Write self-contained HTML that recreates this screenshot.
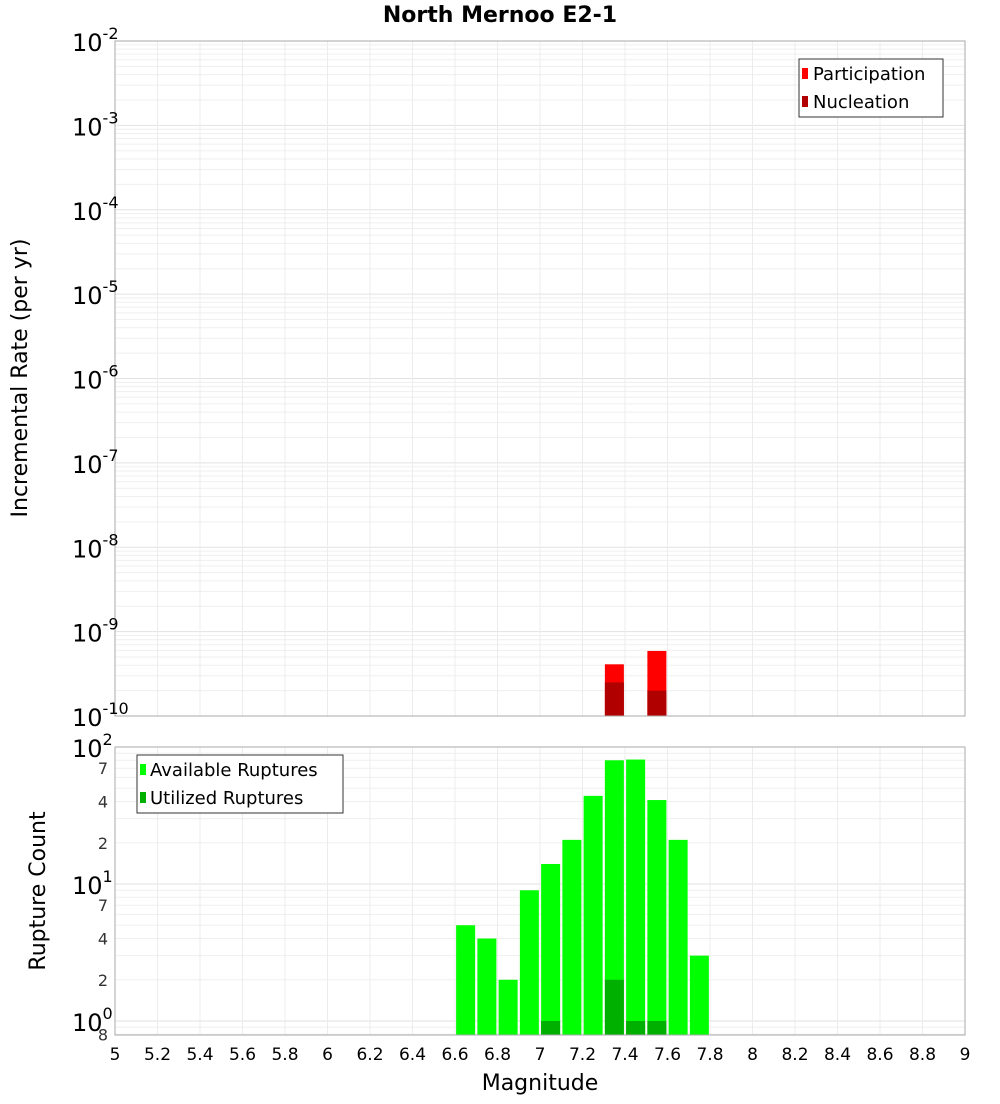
<!DOCTYPE html>
<html><head><meta charset="utf-8"><style>
body{margin:0;background:#fff;width:1000px;height:1100px;overflow:hidden;font-family:"DejaVu Sans","Liberation Sans",sans-serif}
svg text{font-family:"DejaVu Sans","Liberation Sans",sans-serif}
</style></head><body>
<svg id="chart" width="1000" height="1100" xmlns="http://www.w3.org/2000/svg"></svg>
<script>
const magCenters=[7.35,7.55];
const participation=[4.1e-10,5.9e-10];
const nucleation=[2.5e-10,2.0e-10];
const countMags=[6.65,6.75,6.85,6.95,7.05,7.15,7.25,7.35,7.45,7.55,7.65,7.75];
const available=[5,4,2,9,14,21,44,80,81,41,21,3];
const utilMags=[7.05,7.35,7.45,7.55];
const utilized=[1,2,1,1];
const xTicks=[5,5.2,5.4,5.6,5.8,6,6.2,6.4,6.6,6.8,7,7.2,7.4,7.6,7.8,8,8.2,8.4,8.6,8.8,9];
const topExps=[-10,-9,-8,-7,-6,-5,-4,-3,-2];

const NS="http://www.w3.org/2000/svg";
const svg=document.getElementById('chart');
function el(tag,attrs,parent){const e=document.createElementNS(NS,tag);for(const k in attrs)e.setAttribute(k,attrs[k]);(parent||svg).appendChild(e);return e;}
const L=115,R=965,T1=41,B1=716,T2=747,B2=1035;
const xS=v=>L+(v-5)/4*(R-L);
const y1=v=>B1-(Math.log10(v)+10)/8*(B1-T1);
const dec2=137, y2=v=>1021-Math.log10(v)*dec2;

// title
let t=el('text',{x:500,y:22,'text-anchor':'middle','font-size':22,'font-weight':'bold'});t.textContent='North Mernoo E2-1';


// top plot
let g1=el('g',{});
el('rect',{x:L,y:T1,width:R-L,height:B1-T1,fill:'#fff'},g1);
for(let e=-10;e<-2;e++)for(let m=1;m<10;m++){const yy=y1(m*Math.pow(10,e));el('line',{x1:L,x2:R,y1:yy,y2:yy,stroke:m==1?'#e2e2e2':'#efefef','stroke-width':1},g1);}
xTicks.forEach(v=>el('line',{x1:xS(v),x2:xS(v),y1:T1,y2:B1,stroke:'#ececec'},g1));
const bw=19;
magCenters.forEach((m,i)=>{
 let b=el('rect',{x:xS(m)-bw/2,y:y1(participation[i]),width:bw,height:B1-y1(participation[i]),fill:'#ff0000'},g1);
 
 let n=el('rect',{x:xS(m)-bw/2,y:y1(nucleation[i]),width:bw,height:B1-y1(nucleation[i]),fill:'#b00000'},g1);
 
});
el('rect',{x:L,y:T1,width:R-L,height:B1-T1,fill:'none',stroke:'#aaa'},g1);
topExps.forEach(e=>{const yy=y1(Math.pow(10,e));
 let tx=el('text',{x:72,y:yy+10,'font-size':24},g1);tx.textContent='10';
 let sp=el('tspan',{dy:-12,'font-size':16},tx);sp.textContent=String(e);
 });
let yt=el('text',{transform:'translate(27,378) rotate(-90)','text-anchor':'middle','font-size':22});yt.textContent='Incremental Rate (per yr)';

// legend top
let lg=el('g',{});
el('rect',{x:799,y:59,width:144,height:58,fill:'#fff',stroke:'#333'},lg);
el('rect',{x:802,y:68,width:6,height:11,fill:'#ff0000'},lg);
el('rect',{x:802,y:96,width:6,height:11,fill:'#b00000'},lg);
let l1=el('text',{x:813,y:80,'font-size':18},lg);l1.textContent='Participation';
let l2=el('text',{x:813,y:108,'font-size':18},lg);l2.textContent='Nucleation';

// bottom plot
let g2=el('g',{});
el('rect',{x:L,y:T2,width:R-L,height:B2-T2,fill:'#fff'},g2);
for(let e=-1;e<2;e++)for(let m=1;m<10;m++){const v=m*Math.pow(10,e);const yy=y2(v);if(yy<T2||yy>B2)continue;el('line',{x1:L,x2:R,y1:yy,y2:yy,stroke:m==1?'#e2e2e2':'#efefef'},g2);}
xTicks.forEach(v=>el('line',{x1:xS(v),x2:xS(v),y1:T2,y2:B2,stroke:'#ececec'},g2));
countMags.forEach((m,i)=>{let b=el('rect',{x:xS(m)-bw/2,y:y2(available[i]),width:bw,height:B2-y2(available[i]),fill:'#00ff00'},g2);
 });
utilMags.forEach((m,i)=>{let b=el('rect',{x:xS(m)-bw/2,y:y2(utilized[i]),width:bw,height:B2-y2(utilized[i]),fill:'#00b000'},g2);
 });
el('rect',{x:L,y:T2,width:R-L,height:B2-T2,fill:'none',stroke:'#aaa'},g2);
[[100,'10','2'],[10,'10','1'],[1,'10','0']].forEach(([v,b,s])=>{const yy=y2(v);
 let tx=el('text',{x:72,y:yy+10,'font-size':24},g2);tx.textContent=b;
 let sp=el('tspan',{dy:-12,'font-size':16},tx);sp.textContent=s;});
[[70,'7'],[40,'4'],[20,'2'],[7,'7'],[4,'4'],[2,'2'],[0.8,'8']].forEach(([v,s])=>{let tx=el('text',{x:108,y:y2(v)+6,'text-anchor':'end','font-size':16,fill:'#333'},g2);tx.textContent=s;});
let yt2=el('text',{transform:'translate(45,891) rotate(-90)','text-anchor':'middle','font-size':22});yt2.textContent='Rupture Count';

let lg2=el('g',{});
el('rect',{x:137,y:755,width:206,height:58,fill:'#fff',stroke:'#333'},lg2);
el('rect',{x:140,y:764,width:6,height:11,fill:'#00ff00'},lg2);
el('rect',{x:140,y:792,width:6,height:11,fill:'#00b000'},lg2);
let l3=el('text',{x:150,y:776,'font-size':18},lg2);l3.textContent='Available Ruptures';
let l4=el('text',{x:150,y:804,'font-size':18},lg2);l4.textContent='Utilized Ruptures';

// x axis
xTicks.forEach(v=>{let tx=el('text',{x:xS(v),y:1060,'text-anchor':'middle','font-size':17});tx.textContent=String(v);
 });
let xt=el('text',{x:540,y:1090,'text-anchor':'middle','font-size':22});xt.textContent='Magnitude';

</script>
</body></html>
